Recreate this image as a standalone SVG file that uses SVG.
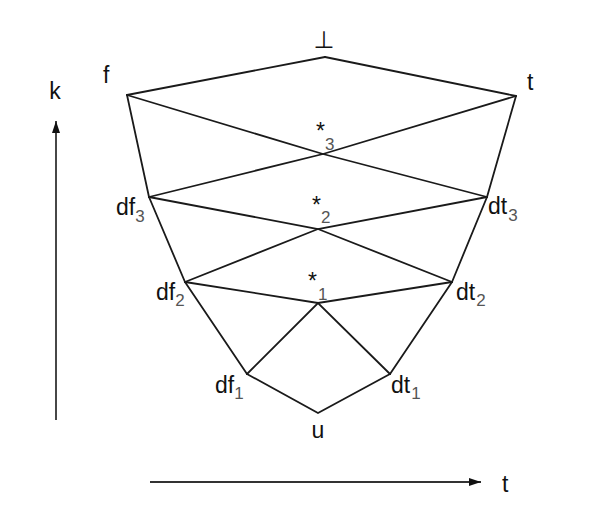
<svg xmlns="http://www.w3.org/2000/svg" width="592" height="524" viewBox="0 0 592 524">
<style>
.e{stroke:#1a1a1a;stroke-width:1.8;fill:none;stroke-linecap:round}
.ax{stroke:#333;stroke-width:1.8;fill:none}
.lb{font-family:"Liberation Sans",Arial,sans-serif;font-size:23px;fill:#111}
.sub{font-size:17px;fill:#555}
</style>
<defs>
<marker id="ah" markerWidth="12" markerHeight="8" refX="12" refY="4" orient="auto" markerUnits="userSpaceOnUse">
<path d="M0,0 L12,4 L0,8 Z" fill="#111"/>
</marker>
</defs>
<rect width="592" height="524" fill="#fff"/>
<g id="connectors">
<line class="e" x1="325" y1="57" x2="127" y2="95"/>
<line class="e" x1="325" y1="57" x2="516" y2="96"/>
<polyline class="e" points="127,95 323,154 487,197"/>
<polyline class="e" points="516,96 323,154 149,197"/>
<line class="e" x1="127" y1="95" x2="149" y2="197"/>
<line class="e" x1="516" y1="96" x2="487" y2="197"/>
<polyline class="e" points="149,197 318,229 452,282"/>
<polyline class="e" points="487,197 318,229 185,282"/>
<line class="e" x1="149" y1="197" x2="185" y2="282"/>
<line class="e" x1="487" y1="197" x2="452" y2="282"/>
<polyline class="e" points="185,282 318,303 452,282"/>
<polyline class="e" points="247,374 318,303 390,374"/>
<line class="e" x1="185" y1="282" x2="247" y2="374"/>
<line class="e" x1="452" y1="282" x2="390" y2="374"/>
<polyline class="e" points="247,374 318,413 390,374"/>
</g>
<g id="axes">
<line class="ax" x1="56" y1="420" x2="56" y2="121" marker-end="url(#ah)"/>
<line class="ax" x1="150" y1="482" x2="481" y2="482" marker-end="url(#ah)"/>
</g>
<g id="axis-k"><text class="lb" x="55" y="99" text-anchor="middle">k</text></g>
<g id="axis-t"><text class="lb" x="502" y="492">t</text></g>
<g id="node-bottom"><text x="324" y="48" text-anchor="middle" font-family="DejaVu Sans, sans-serif" font-size="24" fill="#111">⊥</text></g>
<g id="node-f"><text class="lb" x="103" y="83">f</text></g>
<g id="node-t"><text class="lb" x="527" y="90">t</text></g>
<g id="node-star3"><text class="lb" x="316" y="139">*<tspan class="sub" dx="0" dy="11">3</tspan></text></g>
<g id="node-df3"><text class="lb" x="116" y="215">df<tspan class="sub" dx="0" dy="7">3</tspan></text></g>
<g id="node-dt3"><text class="lb" x="488" y="214">dt<tspan class="sub" dx="1" dy="7">3</tspan></text></g>
<g id="node-star2"><text class="lb" x="312" y="213">*<tspan class="sub" dx="0" dy="10">2</tspan></text></g>
<g id="node-df2"><text class="lb" x="156" y="300">df<tspan class="sub" dx="0" dy="6">2</tspan></text></g>
<g id="node-dt2"><text class="lb" x="456" y="300">dt<tspan class="sub" dx="1" dy="6">2</tspan></text></g>
<g id="node-star1"><text class="lb" x="308" y="289">*<tspan class="sub" dx="1" dy="11">1</tspan></text></g>
<g id="node-df1"><text class="lb" x="215" y="393">df<tspan class="sub" dx="0" dy="6">1</tspan></text></g>
<g id="node-dt1"><text class="lb" x="391" y="393">dt<tspan class="sub" dx="1" dy="6">1</tspan></text></g>
<g id="node-u"><text class="lb" x="318" y="438" text-anchor="middle">u</text></g>
</svg>
